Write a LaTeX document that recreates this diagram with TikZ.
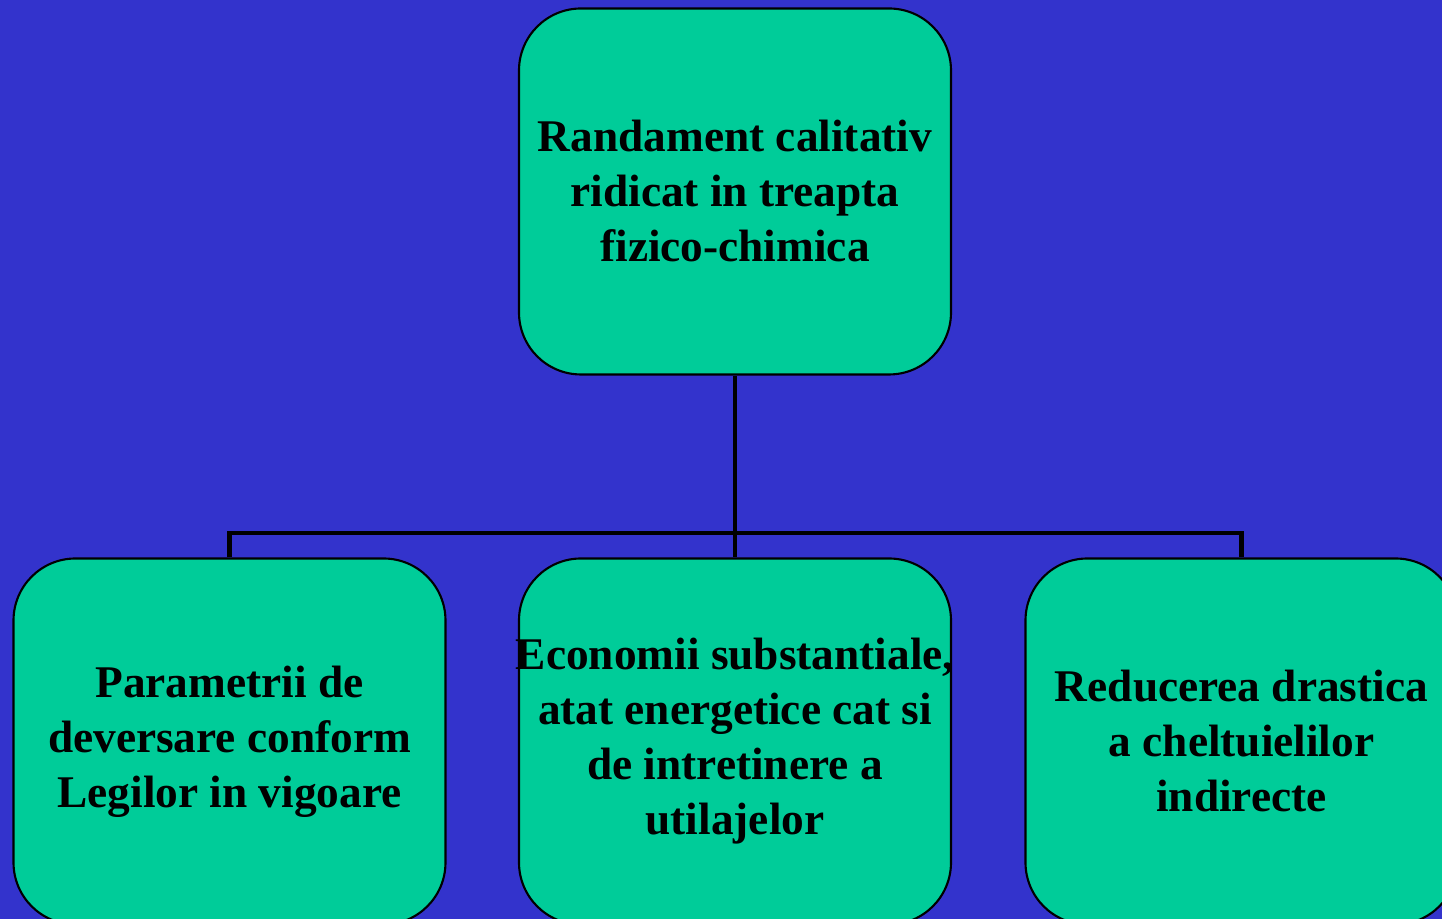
\documentclass[tikz,border=0pt]{standalone}
\usepackage{fontspec}
\setmainfont{Liberation Serif}
\definecolor{slidebg}{HTML}{3333CC}
\definecolor{boxfill}{HTML}{00CC99}
\begin{document}
\begin{tikzpicture}
  %
  \tikzstyle{box} = [draw=black, line width=0.6pt, fill=boxfill, rounded corners=0.62cm, minimum width=4.32cm, minimum height=3.66cm, align=center, inner xsep=-0.3cm, inner ysep=0pt, font=\fontsize{12.9}{15.65}\selectfont\bfseries]
  \tikzstyle{link} = [draw=black, line width=1.4pt]
  \fill[slidebg] (0,0) rectangle (14.42,-9.19);
  \useasboundingbox (0,0) rectangle (14.42,-9.19);
  \clip (0,0) rectangle (14.42,-9.19);
  \node[box] (top) at (7.35,-1.915) {Randament calitativ\\ ridicat in treapta\\ fizico-chimica};
  \node[box] (left) at (2.295,-7.415) {Parametrii de\\ deversare conform\\ Legilor in vigoare};
  \node[box] (mid) at (7.35,-7.415) {Economii substantiale,\\ atat energetice cat si\\ de intretinere a\\ utilajelor};
  \node[box] (right) at (12.415,-7.415) {Reducerea drastica\\ a cheltuielilor\\ indirecte};
  \coordinate (split) at (7.35,-5.33);
  \draw[link] (top.south) -- (mid.north);
  \draw[link] (left.north) |- (split) -| (right.north);
\end{tikzpicture}
\end{document}
